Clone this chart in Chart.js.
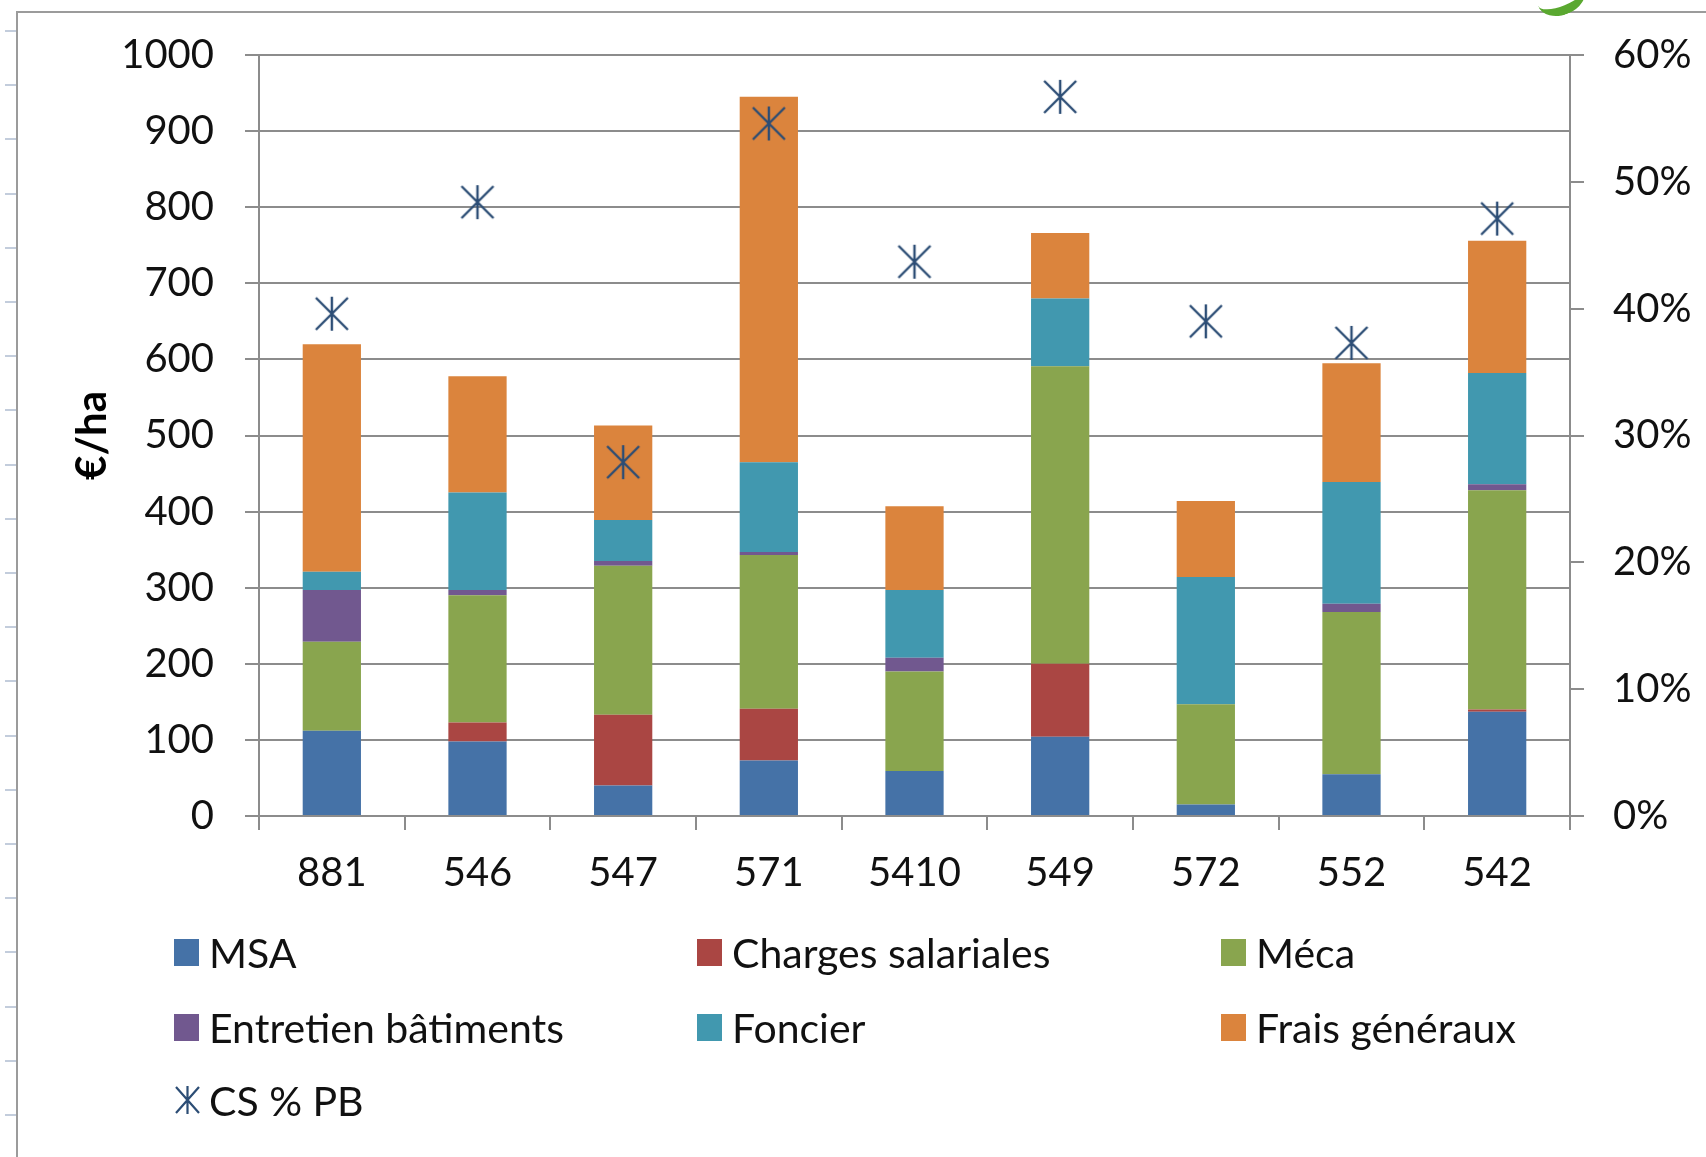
<!DOCTYPE html>
<html>
<head>
<meta charset="utf-8">
<script src="https://cdn.jsdelivr.net/npm/chart.js@4.4.1/dist/chart.umd.min.js"></script>
<style>
  html, body { margin: 0; padding: 0; background: #ffffff; }
  #wrap { position: relative; width: 1706px; height: 1157px; overflow: hidden; background: #fff; }
  #c { position: absolute; left: 0; top: 0; }
  .frameTop { position: absolute; left: 16px; top: 11px; width: 1700px; height: 2px; background: #9b9b9b; }
  .frameLeft { position: absolute; left: 16px; top: 11px; width: 2px; height: 1160px; background: #9b9b9b; }
  .ruler { position: absolute; left: 5px; top: 30px; width: 11px; height: 1130px;
    background: repeating-linear-gradient(to bottom, #c3cddc 0px, #c3cddc 2px, transparent 2px, transparent 54.2px); }
  .swoosh { position: absolute; left: 1536px; top: -22px; width: 50px; height: 28px; border-radius: 50%;
    border-bottom: 9px solid #5aa830; transform: rotate(-22deg); }
  .leg { position: absolute; display: flex; align-items: center; font-family: Lato, 'Open Sans', sans-serif;
    font-size: 41px; color: #111; white-space: nowrap; }
  .leg .box { width: 25px; height: 27px; margin-right: 10px; }
</style>
</head>
<body>
<div id="wrap">
  <div class="ruler"></div>
  <div class="frameTop"></div>
  <div class="frameLeft"></div>
  <div class="swoosh"></div>
  <canvas id="c" width="1706" height="1157"></canvas>
  <div id="legend"></div>
</div>
<script>
// ---- data ----
const categories = ['881', '546', '547', '571', '5410', '549', '572', '552', '542'];
const msa        = [112,  98,  40,  73,  59, 104,  15,  55, 137];
const charges    = [  0,  25,  93,  68,   0,  96,   0,   0,   3];
const meca       = [117, 167, 196, 202, 131, 391, 132, 213, 288];
const entretien  = [ 68,   7,   6,   4,  18,   0,   0,  11,   8];
const foncier    = [ 24, 128,  54, 118,  89,  89, 167, 160, 146];
const frais      = [299, 153, 124, 480, 110,  86, 100, 156, 174];
const csPctPb    = [0.396, 0.484, 0.279, 0.546, 0.437, 0.567, 0.390, 0.373, 0.471];

const seriesNames = ['MSA', 'Charges salariales', 'Méca', 'Entretien bâtiments', 'Foncier', 'Frais généraux', 'CS % PB'];
const seriesColors = ['#4572A7', '#AA4643', '#89A54E', '#71588F', '#4198AF', '#DB843D', '#2C4D75'];
const leftTicks = [0, 100, 200, 300, 400, 500, 600, 700, 800, 900, 1000];
const rightTicks = [0, 0.1, 0.2, 0.3, 0.4, 0.5, 0.6];

// ---- star marker (Excel style asterisk: vertical + two diagonals) ----
function makeStar(w, h, lw, color) {
  const cv = document.createElement('canvas');
  cv.width = w; cv.height = h;
  const g = cv.getContext('2d');
  g.strokeStyle = color; g.lineWidth = lw; g.lineCap = 'butt';
  g.beginPath();
  g.moveTo(w / 2, 1); g.lineTo(w / 2, h - 1);
  g.moveTo(2, 2); g.lineTo(w - 2, h - 2);
  g.moveTo(w - 2, 2); g.lineTo(2, h - 2);
  g.stroke();
  return cv;
}
const starImg = makeStar(36, 36, 2.4, seriesColors[6]);

const FONT = "Lato, 'Open Sans', sans-serif";
const gridColor = '#8c8c8c';

const barSeries = [msa, charges, meca, entretien, foncier, frais];
const datasets = barSeries.map((d, i) => ({
  type: 'bar',
  label: seriesNames[i],
  data: d,
  backgroundColor: seriesColors[i],
  borderWidth: 0,
  yAxisID: 'y',
  stack: 's',
  order: 2
}));
datasets.push({
  type: 'line',
  label: seriesNames[6],
  data: csPctPb,
  yAxisID: 'y1',
  showLine: false,
  pointStyle: starImg,
  pointRadius: 18,
  pointHoverRadius: 18,
  borderColor: seriesColors[6],
  backgroundColor: seriesColors[6],
  order: 1
});

new Chart(document.getElementById('c'), {
  data: { labels: categories, datasets },
  options: {
    responsive: false,
    animation: false,
    events: [],
    layout: { padding: { top: 55, left: 0, right: 0, bottom: 0 } },
    plugins: { legend: { display: false }, tooltip: { enabled: false } },
    datasets: { bar: { categoryPercentage: 1.0, barPercentage: 0.40 } },
    scales: {
      x: {
        stacked: true,
        offset: true,
        grid: { display: true, offset: true, drawOnChartArea: false, drawTicks: true, tickLength: 14, color: gridColor, lineWidth: 2 },
        border: { display: true, color: gridColor, width: 2 },
        ticks: { color: '#111', font: { family: FONT, size: 40 }, padding: 19, maxRotation: 0 },
        afterFit: s => { s.height = 341; }
      },
      y: {
        position: 'left',
        stacked: true,
        min: 0, max: 1000,
        afterBuildTicks: s => { s.ticks = leftTicks.map(v => ({ value: v })); },
        grid: { display: true, color: gridColor, lineWidth: 2, drawTicks: true, tickLength: 14 },
        border: { display: true, color: gridColor, width: 2 },
        ticks: { color: '#111', font: { family: FONT, size: 40 }, padding: 31, callback: v => String(v) },
        title: { display: true, text: '€/ha', color: '#000', font: { family: FONT, size: 42, weight: 'bold' }, padding: { top: 67, bottom: 0 } },
        afterFit: s => { s.width = 259; }
      },
      y1: {
        position: 'right',
        min: 0, max: 0.6,
        afterBuildTicks: s => { s.ticks = rightTicks.map(v => ({ value: v })); },
        grid: { display: true, drawOnChartArea: false, drawTicks: true, tickLength: 14, color: gridColor, lineWidth: 2 },
        border: { display: true, color: gridColor, width: 2 },
        ticks: { color: '#111', font: { family: FONT, size: 40 }, padding: 29,
          callback: v => Math.round(v * 100) + '%' },
        afterFit: s => { s.width = 136; }
      }
    }
  }
});

// ---- HTML legend built from series names / colours ----
const legend = document.getElementById('legend');
const colX = [174, 697, 1221];
const rowY = [952, 1027, 1100];
seriesNames.forEach((name, i) => {
  const el = document.createElement('div');
  el.className = 'leg';
  const col = i % 3, row = Math.floor(i / 3);
  el.style.left = colX[col] + 'px';
  el.style.top = (rowY[row] - 25) + 'px';
  el.style.height = '50px';
  if (i < 6) {
    const b = document.createElement('span');
    b.className = 'box';
    b.style.background = seriesColors[i];
    el.appendChild(b);
  } else {
    const ns = 'http://www.w3.org/2000/svg';
    const svg = document.createElementNS(ns, 'svg');
    svg.setAttribute('width', '27'); svg.setAttribute('height', '30');
    svg.style.marginRight = '8px';
    const p = document.createElementNS(ns, 'path');
    p.setAttribute('d', 'M13.5 1 L13.5 29 M2 2 L25 28 M25 2 L2 28');
    p.setAttribute('stroke', seriesColors[6]); p.setAttribute('stroke-width', '2.2'); p.setAttribute('fill', 'none');
    svg.appendChild(p);
    el.appendChild(svg);
  }
  const t = document.createElement('span');
  t.textContent = name;
  el.appendChild(t);
  legend.appendChild(el);
});
</script>
</body>
</html>
